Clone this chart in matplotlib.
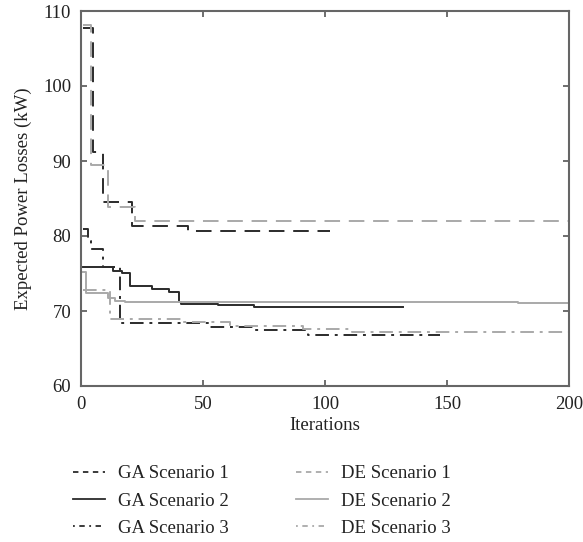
import numpy as np
import matplotlib
matplotlib.use('Agg')
import matplotlib.pyplot as plt
from matplotlib.lines import Line2D

plt.rcParams['font.family'] = ['Liberation Serif', 'DejaVu Serif']

# convergence curves as (iteration, value) step points
ga1_it = [1, 5, 9, 21, 44, 102]
ga1_val = [107.8, 91.2, 84.6, 81.3, 80.7, 80.7]

ga2_it = [1, 13, 17, 20, 29, 36, 40, 41, 56, 71, 132]
ga2_val = [75.9, 75.4, 75.1, 73.3, 73.0, 72.6, 71.2, 70.9, 70.8, 70.5, 70.5]

ga3_it = [1, 3, 4, 9, 16, 53, 71, 93, 147]
ga3_val = [81.0, 79.4, 78.3, 75.9, 68.4, 67.9, 67.4, 66.8, 66.8]

de1_it = [1, 4, 11, 22, 200]
de1_val = [108.2, 89.5, 83.9, 82.0, 82.0]

de2_it = [1, 2, 11, 14, 18, 179, 200]
de2_val = [75.2, 72.4, 71.8, 71.4, 71.2, 71.05, 71.05]

de3_it = [1, 12, 41, 61, 91, 111, 200]
de3_val = [72.8, 68.9, 68.5, 68.0, 67.6, 67.2, 67.2]

labels = ['GA Scenario 1', 'GA Scenario 2', 'GA Scenario 3',
          'DE Scenario 1', 'DE Scenario 2', 'DE Scenario 3']

dark = '#2b2b2b'
light = '#a9a9a9'
dash = (0, (8, 4.5))
dashdot = (0, (7, 3, 1.5, 3))

fig = plt.figure(figsize=(5.83, 5.42), dpi=100)
ax = fig.add_axes([81/583, 1-386/542, (569-81)/583, (386-11)/542])

series = [(ga1_it, ga1_val, dark, dash), (ga2_it, ga2_val, dark, '-'),
          (ga3_it, ga3_val, dark, dashdot), (de1_it, de1_val, light, dash),
          (de2_it, de2_val, light, '-'), (de3_it, de3_val, light, dashdot)]
for it, val, c, ls in series:
    ax.plot(it, val, color=c, ls=ls, lw=1.4, drawstyle='steps-post')

ax.set_xlim(0, 200)
ax.set_ylim(60, 110)
ax.set_xticks([0, 50, 100, 150, 200])
ax.set_yticks([60, 70, 80, 90, 100, 110])
ax.tick_params(direction='in', top=True, right=True, length=4, width=1.2, pad=7,
               color='#555555', labelsize=13.5, labelcolor='#222222')
for s in ax.spines.values():
    s.set_color('#666666')
    s.set_linewidth(1.5)

ax.set_xlabel('Iterations', fontsize=13.5, color='#222222', labelpad=3)
ax.set_ylabel('Expected Power Losses (kW)', fontsize=13.5, color='#222222', labelpad=8)

# the legend in the picture uses shorter dashes than the plot
leg_styles = [(0, (3, 2.5)), '-', (0, (1, 2.5, 3, 2.5))]
handles = []
for c in (dark, light):
    for ls in leg_styles:
        handles.append(Line2D([], [], color=c, ls=ls, lw=1.3))

fig.legend(handles, labels, loc='upper left', bbox_to_anchor=(73/583, 1-465/542), ncol=2,
           frameon=False, fontsize=13.5, handlelength=1.7, handletextpad=0.7,
           columnspacing=3.6, labelspacing=0.55, borderpad=0, borderaxespad=0,
           labelcolor='#222222')

fig.savefig('out.png', dpi=100)
